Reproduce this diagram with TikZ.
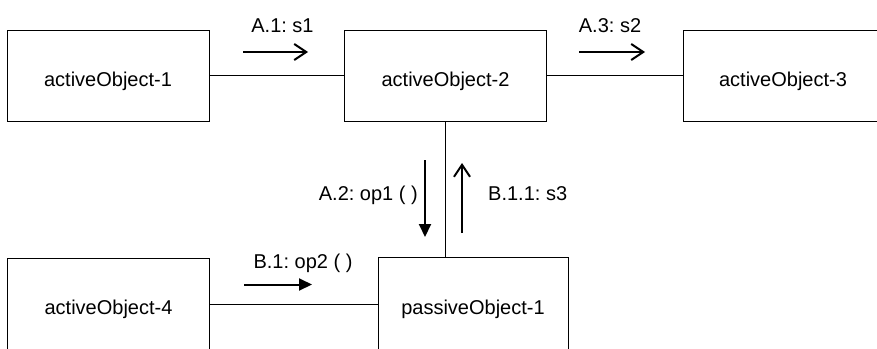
\documentclass[tikz,border=0pt]{standalone}
\usepackage{fontspec}
\setmainfont{Liberation Sans}
\usepackage{tikz}
\usetikzlibrary{calc}
\usetikzlibrary{positioning}
\usetikzlibrary{arrows.meta}
\tikzstyle{objnode} = [draw, rectangle, line width=1pt, minimum width=202pt, minimum height=91pt, text height=21pt, text depth=0pt, inner sep=0, align=center]
\tikzstyle{msgnode} = [inner sep=0, anchor=base]
\tikzstyle{link} = [line width=1pt]
\tikzstyle{asyncmsg} = [line width=2pt, -{Straight Barb[length=12pt, width=16pt, line width=2pt]}]
\tikzstyle{syncmsg} = [line width=2pt, -{Triangle[length=13pt, width=12pt]}]

\begin{document}
\frenchspacing
\begin{tikzpicture}[x=1pt, y=1pt, every node/.style={font=\fontsize{20}{24}\selectfont}]
    \useasboundingbox (0,0) rectangle (877,-348);
    \clip (0,0) rectangle (877,-348);

    \node[objnode] (ao_one) at (108,-75.5) {activeObject-1};
    \node[objnode] (ao_two) at ($(ao_one)+(337.5,0)$) {activeObject-2};
    \node[objnode, minimum width=200pt] (ao_three) at ($(ao_one)+(675,0)$) {activeObject-3};
    \node[objnode] (ao_four) at ($(ao_one)+(0.5,-228.5)$) {activeObject-4};
    \node[objnode, minimum width=190pt, minimum height=94pt] (po_one) at ($(ao_one)+(365,-228.5)$) {passiveObject-1};
    \draw[link] (ao_one) -- (ao_two);
    \draw[link] (ao_two) -- (ao_three);
    \draw[link] (ao_two.south) -- (ao_two.south |- po_one.north);
    \draw[link] (ao_four) -- (po_one);

    \coordinate (a1_from) at ($(ao_one)+(135,23.5)$);
    \coordinate (a1_to) at ($(ao_one)+(200,23.5)$);
    \coordinate (a3_from) at ($(ao_two)+(133.5,23.5)$);
    \coordinate (a3_to) at ($(ao_two)+(199.5,23.5)$);
    \coordinate (a2_from) at ($(ao_two)+(-20.5,-84.5)$);
    \coordinate (a2_to) at ($(ao_two)+(-20.5,-161.5)$);
    \coordinate (b11_from) at ($(ao_two)+(16.5,-157.5)$);
    \coordinate (b11_to) at ($(ao_two)+(16.5,-87.5)$);
    \coordinate (b1_from) at ($(ao_four)+(135.5,19.5)$);
    \coordinate (b1_to) at ($(ao_four)+(203.5,19.5)$);
    \draw[asyncmsg] (a1_from) -- (a1_to);
    \draw[asyncmsg] (a3_from) -- (a3_to);
    \draw[syncmsg] (a2_from) -- (a2_to);
    \draw[asyncmsg] (b11_from) -- (b11_to);
    \draw[syncmsg] (b1_from) -- (b1_to);

    \node[msgnode] (a1_label) at ($(ao_one)+(174.5,43.5)$) {A.1: s1};
    \node[msgnode] (a3_label) at ($(ao_two)+(164.5,43.5)$) {A.3: s2};
    \node[msgnode, anchor=base east] (a2_label) at ($(ao_two)+(-27.5,-124.5)$) {A.2: op1 ( )};
    \node[msgnode, anchor=base west] (b11_label) at ($(ao_two)+(42.5,-124.5)$) {B.1.1: s3};
    \node[msgnode] (b1_label) at ($(ao_four)+(194.5,35.5)$) {B.1: op2 ( )};
\end{tikzpicture}
\end{document}
